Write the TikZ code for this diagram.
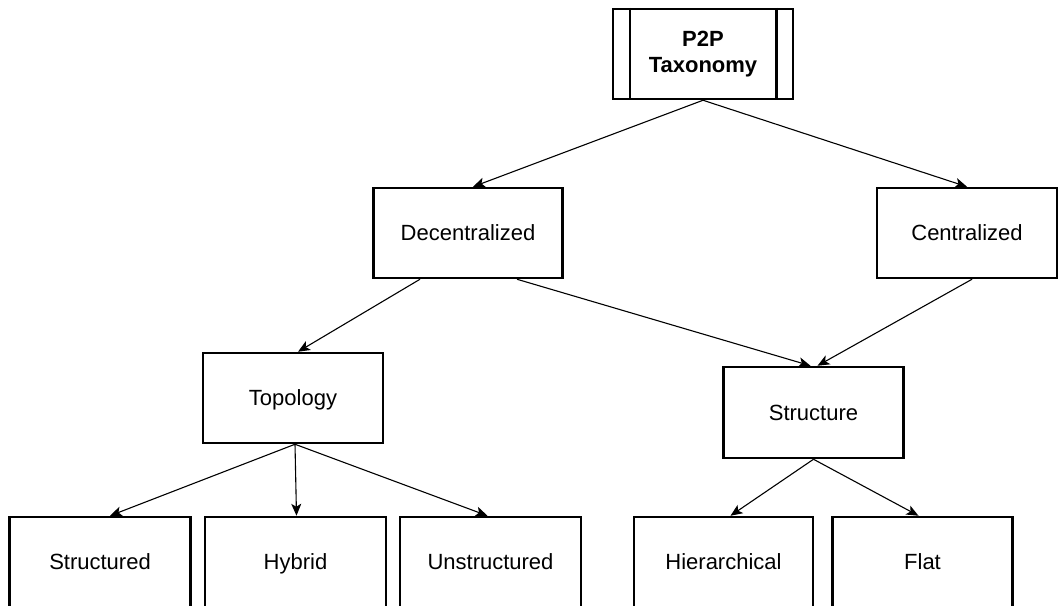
\documentclass[tikz,border=0pt]{standalone}
\usepackage{fontspec}
\setmainfont{Liberation Sans}
\usetikzlibrary{arrows.meta}
\begin{document}
\begin{tikzpicture}[x=1pt,y=-1pt,
  box/.style={draw=black, line width=2.5pt, fill=white, minimum width=180pt, minimum height=90pt,
    inner sep=0pt, align=center, font=\fontsize{22}{26}\selectfont},
  label/.style={text height=15.5pt, text depth=0pt},
  arr/.style={line width=1.1pt, -{Stealth[length=12pt,width=10pt,inset=3pt]}}]
\useasboundingbox (0,0) rectangle (1060,605);
\clip (0,0) rectangle (1060,605);
% nodes
\node[box] (p2p) at (703,54) {\textbf{P2P}\\\textbf{Taxonomy}};
\draw[line width=2.5pt] ([xshift=18pt]p2p.north west) -- ([xshift=18pt]p2p.south west);
\draw[line width=2.5pt] ([xshift=-18pt]p2p.north east) -- ([xshift=-18pt]p2p.south east);
\node[box, label, minimum width=189pt] (dec) at (468,233) {Decentralized};
\node[box, label] (cen) at (967,233) {Centralized};
\node[box, label] (top) at (293,398) {Topology};
\node[box, label, minimum height=91pt] (str) at (813.5,412.5) {Structure};
\node[box, label, minimum width=181pt] (sd) at (100,562) {Structured};
\node[box, label, minimum width=181pt] (hy) at (295.5,562) {Hybrid};
\node[box, label, minimum width=181pt] (un) at (490.5,562) {Unstructured};
\node[box, label, minimum width=179pt] (hi) at (723.5,562) {Hierarchical};
\node[box, label] (fl) at (922.5,562) {Flat};
% connectors
\draw[arr] (p2p.south) -- ([xshift=5pt]dec.north);
\draw[arr] (p2p.south) -- (cen.north);
\draw[arr] ([xshift=-48pt]dec.south) -- ([xshift=5pt]top.north);
\draw[arr] ([xshift=49pt]dec.south) -- ([xshift=-3pt]str.north);
\draw[arr] ([xshift=5pt]cen.south) -- ([xshift=4pt]str.north);
\draw[arr] ([xshift=2pt]top.south) -- ([xshift=10pt]sd.north);
\draw[arr] ([xshift=2pt]top.south) -- ([xshift=1pt]hy.north);
\draw[arr] ([xshift=2pt]top.south) -- ([xshift=-3pt]un.north);
\draw[arr] (str.south) -- ([xshift=7pt]hi.north);
\draw[arr] (str.south) -- ([xshift=-4pt]fl.north);
\end{tikzpicture}
\end{document}
